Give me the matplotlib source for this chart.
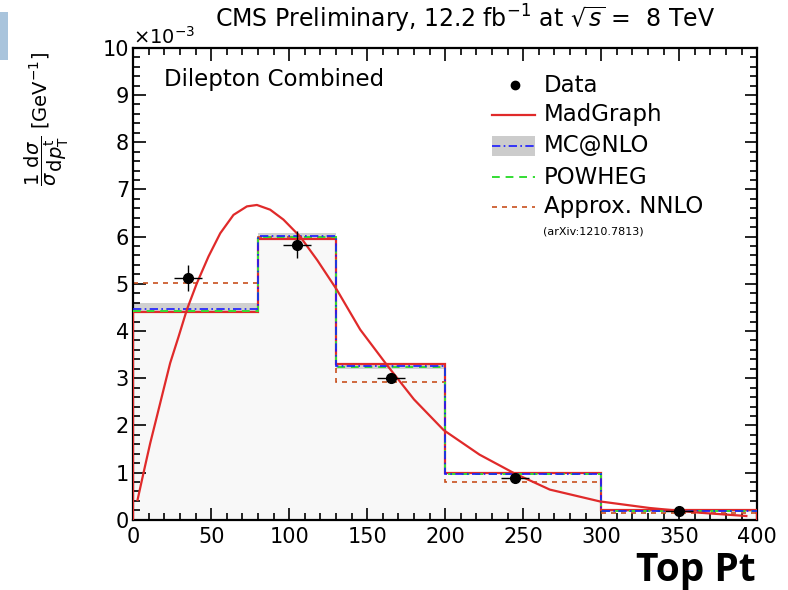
import matplotlib
matplotlib.use("Agg")
import matplotlib.pyplot as plt
from matplotlib.patches import Rectangle
from matplotlib.lines import Line2D
from matplotlib.ticker import MultipleLocator
import numpy as np

plt.rcParams['font.family'] = ['DejaVu Sans']
plt.rcParams['mathtext.fontset'] = 'dejavusans'

# Data (units of 1e-3 GeV^-1)
bin_edges = [0, 80, 130, 200, 300, 400]
madgraph = [4.41, 5.95, 3.30, 1.00, 0.20]
mcatnlo = [4.46, 6.02, 3.25, 0.98, 0.18]
mcatnlo_lo = [4.40, 5.98, 3.20, 0.96, 0.17]
mcatnlo_hi = [4.60, 6.08, 3.30, 1.00, 0.19]
powheg = [4.43, 6.00, 3.24, 0.97, 0.18]
nnlo = [5.01, 6.00, 2.92, 0.80, 0.14]

data_x = [35, 105, 165, 245, 350]
data_y = [5.12, 5.83, 3.00, 0.88, 0.18]
data_xerr = [9, 9, 9, 9, 9]
data_yerr = [0.28, 0.28, 0.10, 0.05, 0.03]

# MadGraph smooth curve (read points)
curve_x = [2.8, 6.6, 10.9, 15.2, 19.4, 23.7, 29.1, 34.4, 40.8, 48.3, 55.8, 64.3, 72.9,
           79.3, 87.8, 96.3, 107, 118, 130.6, 145.5, 162.6, 180, 199, 222, 244, 267,
           299, 331, 363, 393]
curve_y = [0.42, 0.99, 1.62, 2.19, 2.75, 3.32, 3.88, 4.45, 5.01, 5.58, 6.07, 6.46, 6.64,
           6.67, 6.57, 6.36, 6.0, 5.5, 4.87, 4.03, 3.28, 2.55, 1.9, 1.38, 0.99, 0.64,
           0.39, 0.25, 0.15, 0.08]

fig = plt.figure(figsize=(7.88, 5.90), dpi=100)
ax = fig.add_axes([0.169, 0.119, 0.792, 0.800])

# light blue decoration at top-left
fig.patches.append(Rectangle((0, 1 - 60/590), 8/788, 48/590, transform=fig.transFigure,
                             facecolor='#a9c4dc', edgecolor='none'))

edges = np.array(bin_edges)
ax.stairs(mcatnlo, edges, baseline=0, fill=True, color='#f8f8f8', zorder=0)
for i in range(len(mcatnlo)):
    ax.add_patch(Rectangle((edges[i], mcatnlo_lo[i]), edges[i+1]-edges[i],
                           mcatnlo_hi[i]-mcatnlo_lo[i], facecolor='#d0d0d0',
                           edgecolor='none', zorder=1))

c_red = '#e02a2a'
c_blue = '#1a1aff'
c_green = '#33dd33'
c_brown = '#c8501e'

ax.stairs(nnlo, edges, baseline=None, color=c_brown, lw=1.2, ls=(0, (3, 3)), zorder=2)
ax.stairs(madgraph, edges, baseline=0, color=c_red, lw=1.6, zorder=3)
ax.stairs(powheg, edges, baseline=None, color=c_green, lw=1.4, ls=(0, (4, 3)), zorder=4)
ax.stairs(mcatnlo, edges, baseline=None, color=c_blue, lw=1.2, ls=(0, (5, 2, 1, 2)), zorder=5)

ax.plot(curve_x, curve_y, color=c_red, lw=1.6, zorder=6)

ax.errorbar(data_x, data_y, xerr=data_xerr, yerr=data_yerr, fmt='o', color='black',
            ms=7, elinewidth=1.0, capsize=0, zorder=7)

ax.set_xlim(0, 400)
ax.set_ylim(0, 10)
ax.xaxis.set_major_locator(MultipleLocator(50))
ax.xaxis.set_minor_locator(MultipleLocator(10))
ax.yaxis.set_major_locator(MultipleLocator(1))
ax.yaxis.set_minor_locator(MultipleLocator(0.2))
ax.tick_params(which='both', direction='in', top=True, right=True, labelsize=15, width=1.2)
ax.tick_params(which='major', length=9)
ax.tick_params(which='minor', length=5)
ax.tick_params(axis='x', pad=5)
ax.tick_params(axis='y', pad=3)
for s in ax.spines.values():
    s.set_linewidth(1.6)

ax.text(0.0, 1.0, r'$\times$10$^{-3}$', transform=ax.transAxes, fontsize=14,
        ha='left', va='bottom')
fig.text(0.59, 0.968, r'CMS Preliminary, 12.2 fb$^{-1}$ at $\sqrt{s}$ =  8 TeV',
         fontsize=17, ha='center', va='center')
ax.text(0.05, 0.932, 'Dilepton Combined', transform=ax.transAxes, fontsize=16.5,
        ha='left', va='center')

ax.set_ylabel(r'$\dfrac{1}{\sigma}\dfrac{\mathrm{d}\sigma}{\mathrm{d}p^{\mathrm{t}}_{\mathrm{T}}}$ [GeV$^{-1}$]',
              fontsize=14)
ax.yaxis.set_label_coords(-0.10, 0.85)

# legend
fx = lambda px: px / 788
fy = lambda py: 1 - py / 590
ly = [85, 115, 146, 177, 207]
fig.lines.append(Line2D([fx(515)], [fy(ly[0])], marker='o', ms=6, color='black',
                        transform=fig.transFigure))
fig.lines.append(Line2D([fx(492), fx(535)], [fy(ly[1])] * 2, color=c_red, lw=1.6,
                        transform=fig.transFigure))
fig.patches.append(Rectangle((fx(492), fy(ly[2] + 10)), fx(535) - fx(492), 20/590,
                             facecolor='#cccccc', edgecolor='none', transform=fig.transFigure))
fig.lines.append(Line2D([fx(492), fx(535)], [fy(ly[2])] * 2, color=c_blue, lw=1.2,
                        ls=(0, (5, 2, 1, 2)), transform=fig.transFigure))
fig.lines.append(Line2D([fx(492), fx(535)], [fy(ly[3])] * 2, color=c_green, lw=1.4,
                        ls=(0, (4, 3)), transform=fig.transFigure))
fig.lines.append(Line2D([fx(492), fx(535)], [fy(ly[4])] * 2, color=c_brown, lw=1.2,
                        ls=(0, (3, 3)), transform=fig.transFigure))
labels = ['Data', 'MadGraph', 'MC@NLO', 'POWHEG', 'Approx. NNLO']
for y, lab in zip(ly, labels):
    fig.text(fx(544), fy(y), lab, fontsize=16.5, ha='left', va='center')
fig.text(fx(543), fy(232), '(arXiv:1210.7813)', fontsize=8, ha='left', va='center')

fig.text(fx(756), fy(571), 'Top Pt', fontsize=28, fontweight='bold', ha='right',
         va='center', family=['Open Sans', 'DejaVu Sans'])

fig.savefig('out.png', dpi=100)
